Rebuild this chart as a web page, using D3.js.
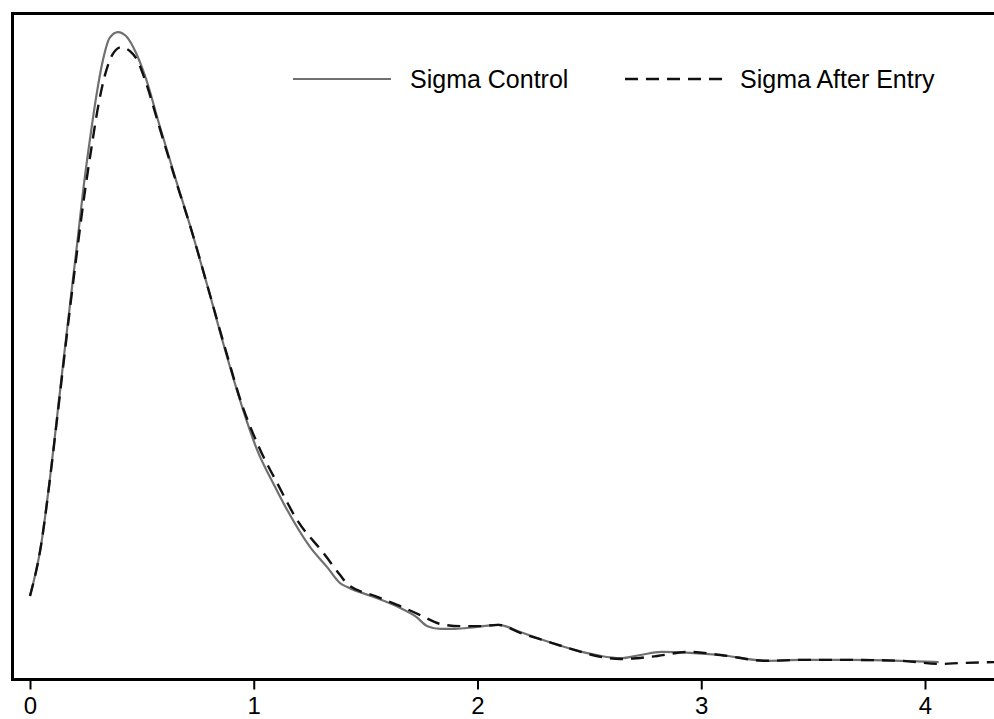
<!DOCTYPE html>
<html lang="en">
  <head>
    <meta charset="UTF-8" />
    <title>Sigma density</title>
    <script src="https://d3js.org/d3.v7.min.js"></script>
    <style>
      body { margin: 0; background: #fff; }
      .chart text { font-family: "Liberation Sans", Arial, Helvetica, sans-serif; }
    </style>
  </head>
  <body>
    <div class="chart"></div>
  </body>

  <script>
    // x ticks
    var xTicks = [0, 1, 2, 3, 4];

    // Sigma Control (solid grey)
    var controlX = [0.0, 0.048, 0.093, 0.122, 0.151, 0.180, 0.210, 0.239, 0.268, 0.298, 0.326, 0.356, 0.393,
      0.429, 0.474, 0.519, 0.577, 0.648, 0.725, 0.796, 0.872, 0.948, 1.015, 1.096, 1.149, 1.252, 1.328, 1.386,
      1.418, 1.552, 1.655, 1.726, 1.776, 1.834, 1.901, 1.990, 2.093, 2.191, 2.303, 2.437, 2.549, 2.639, 2.728,
      2.822, 2.952, 3.086, 3.292, 3.444, 3.667, 3.891, 4.061];
    var controlY = [0.187, 0.297, 0.468, 0.595, 0.723, 0.849, 0.977, 1.106, 1.216, 1.318, 1.394, 1.444, 1.457,
      1.448, 1.410, 1.351, 1.250, 1.131, 1.005, 0.880, 0.741, 0.613, 0.516, 0.432, 0.381, 0.297, 0.252, 0.216,
      0.207, 0.182, 0.160, 0.140, 0.119, 0.113, 0.113, 0.117, 0.122, 0.106, 0.086, 0.065, 0.052, 0.047, 0.054,
      0.061, 0.059, 0.054, 0.041, 0.043, 0.043, 0.041, 0.038];

    // Sigma After Entry (dashed black)
    var entryX = [0.0, 0.048, 0.093, 0.122, 0.151, 0.180, 0.210, 0.242, 0.273, 0.304, 0.335, 0.367, 0.407,
      0.447, 0.479, 0.519, 0.577, 0.648, 0.725, 0.796, 0.872, 0.948, 1.029, 1.105, 1.194, 1.311, 1.386, 1.418,
      1.552, 1.655, 1.744, 1.834, 1.923, 2.013, 2.093, 2.191, 2.303, 2.437, 2.549, 2.639, 2.773, 2.952, 3.086,
      3.292, 3.444, 3.667, 3.891, 4.070, 4.159, 4.311];
    var entryY = [0.187, 0.297, 0.466, 0.590, 0.716, 0.840, 0.962, 1.086, 1.191, 1.288, 1.360, 1.405, 1.423,
      1.414, 1.394, 1.342, 1.245, 1.128, 1.005, 0.880, 0.745, 0.617, 0.516, 0.441, 0.358, 0.284, 0.234, 0.214,
      0.185, 0.164, 0.144, 0.124, 0.119, 0.119, 0.122, 0.104, 0.086, 0.065, 0.050, 0.045, 0.050, 0.061, 0.054,
      0.041, 0.043, 0.043, 0.041, 0.034, 0.036, 0.038];

    var seriesNames = ["Sigma Control", "Sigma After Entry"];

    var W = 994, H = 719;
    var frame = { left: 12.5, top: 13.5, bottom: 679.5 };

    var svg = d3.select(".chart").append("svg")
      .attr("width", W)
      .attr("height", H);

    var x = d3.scaleLinear().domain([0, 4]).range([30, 925]);
    var y = d3.scaleLinear().domain([0, 1.5]).range([679, 13]);

    svg.append("clipPath").attr("id", "plot-clip")
      .append("rect")
      .attr("x", frame.left).attr("y", frame.top)
      .attr("width", W - frame.left).attr("height", frame.bottom - frame.top);

    var line = d3.line()
      .x((d) => x(d[0]))
      .y((d) => y(d[1]))
      .curve(d3.curveMonotoneX);

    var control = controlX.map((v, i) => [v, controlY[i]]);
    var entry = entryX.map((v, i) => [v, entryY[i]]);

    var plot = svg.append("g").attr("clip-path", "url(#plot-clip)");

    plot.append("path")
      .datum(control)
      .attr("fill", "none")
      .attr("stroke", "#707070")
      .attr("stroke-width", 2.2)
      .attr("d", line);

    plot.append("path")
      .datum(entry)
      .attr("fill", "none")
      .attr("stroke", "#111")
      .attr("stroke-width", 2.4)
      .attr("stroke-dasharray", "13,8")
      .attr("d", line);

    // frame (right side runs off the picture)
    svg.append("path")
      .attr("fill", "none")
      .attr("stroke", "#000")
      .attr("stroke-width", 3)
      .attr("d", "M" + (W + 5) + "," + frame.top + "H" + frame.left + "V" + frame.bottom + "H" + (W + 5));

    var xAxis = d3.axisBottom(x)
      .tickValues(xTicks)
      .tickFormat(d3.format("d"))
      .tickSize(10)
      .tickSizeOuter(0)
      .tickPadding(7);

    var gx = svg.append("g")
      .attr("transform", "translate(0," + frame.bottom + ")")
      .call(xAxis);
    gx.select(".domain").remove();
    gx.selectAll(".tick line").attr("stroke", "#000").attr("stroke-width", 2);
    gx.selectAll(".tick text")
      .attr("fill", "#000")
      .style("font-size", "24px")
      .style("font-family", "'Liberation Sans', Arial, sans-serif");

    // legend
    var legend = svg.append("g");
    var items = [
      { name: seriesNames[0], x0: 293, tx: 410, stroke: "#707070", width: 2.2, dash: null },
      { name: seriesNames[1], x0: 625, tx: 740, stroke: "#111", width: 2.4, dash: "13,8" }
    ];
    items.forEach(function (it) {
      legend.append("line")
        .attr("x1", it.x0).attr("x2", it.x0 + 98)
        .attr("y1", 79).attr("y2", 79)
        .attr("stroke", it.stroke)
        .attr("stroke-width", it.width)
        .attr("stroke-dasharray", it.dash);
      legend.append("text")
        .attr("x", it.tx)
        .attr("y", 88)
        .attr("fill", "#000")
        .style("font-size", "25px")
        .text(it.name);
    });
  </script>
</html>
